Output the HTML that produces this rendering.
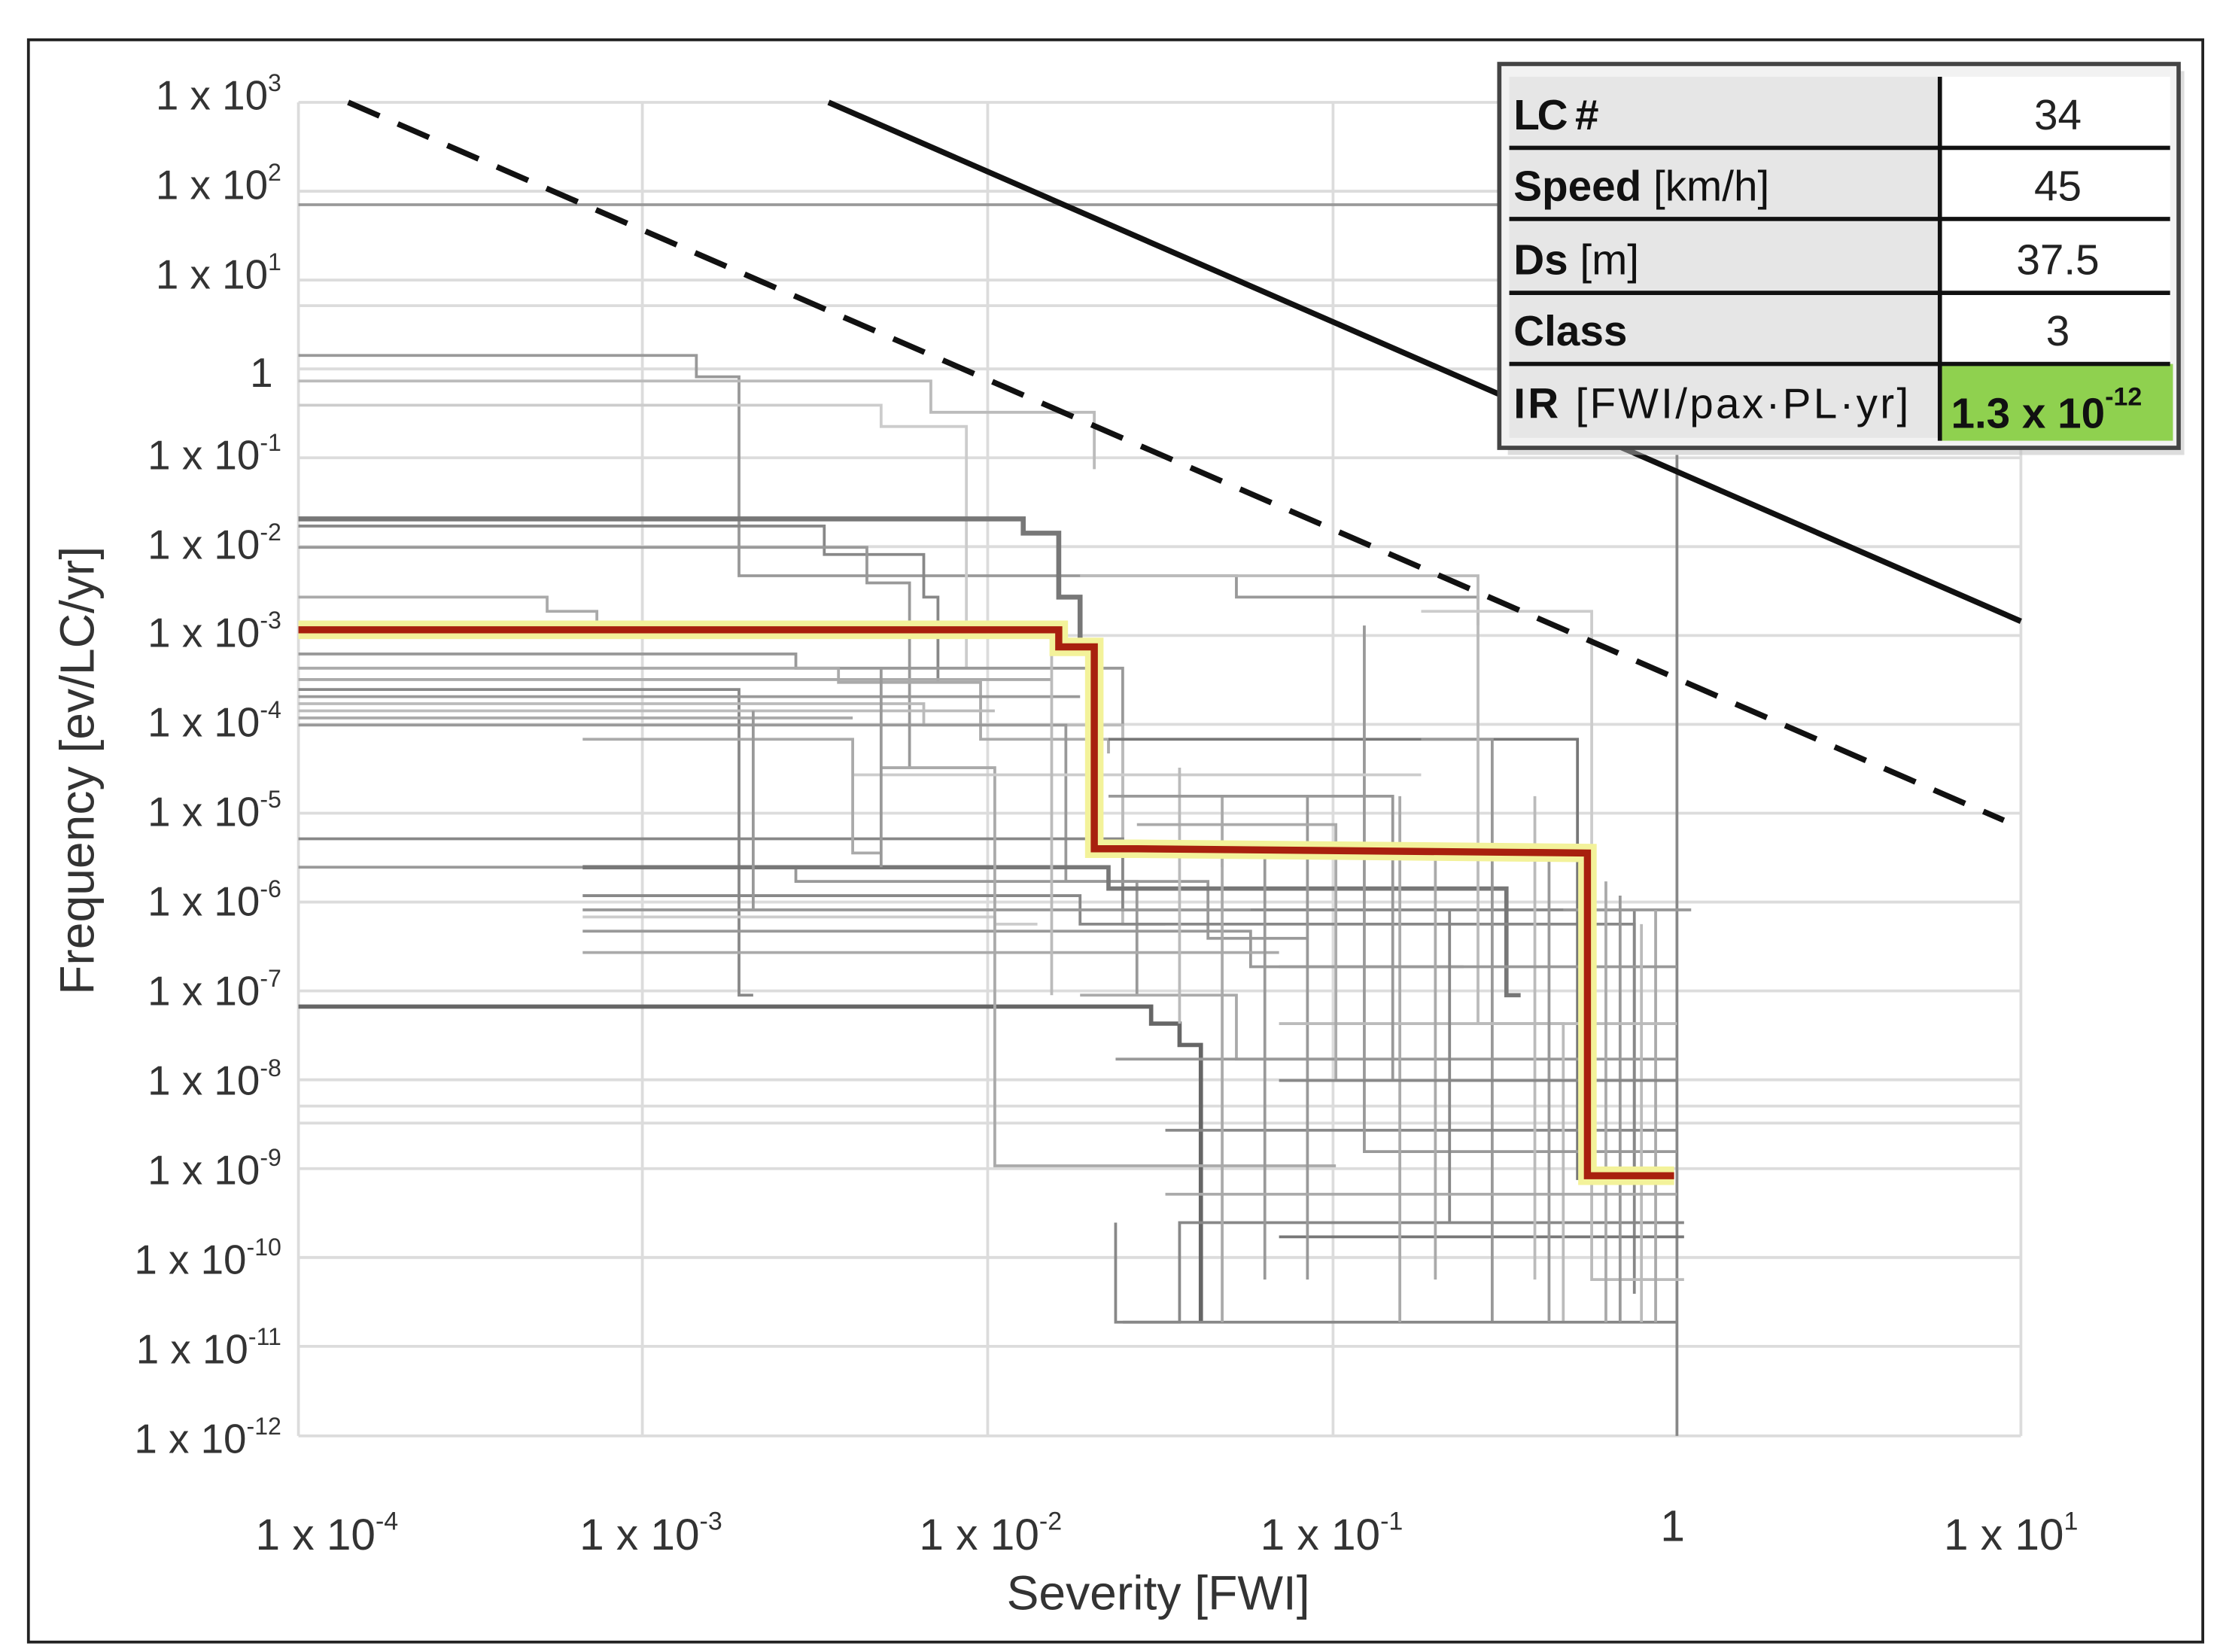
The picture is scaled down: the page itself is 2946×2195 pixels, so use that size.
<!DOCTYPE html>
<html><head><meta charset="utf-8"><style>
html,body{margin:0;padding:0;background:#fff}
svg{display:block}
text{font-family:"Liberation Sans",sans-serif;fill:#333}
</style></head><body>
<svg width="2946" height="2195" viewBox="0 0 1560 1162" preserveAspectRatio="none" xmlns="http://www.w3.org/2000/svg">
<rect x="0" y="0" width="1560" height="1162" fill="#fff"/>
<rect x="20" y="28" width="1530" height="1127" fill="#fff" stroke="#222" stroke-width="2"/>
<g stroke="#dcdcdc" stroke-width="2">
<line x1="210" y1="72" x2="1422" y2="72"/><line x1="210" y1="134.5" x2="1422" y2="134.5"/><line x1="210" y1="197" x2="1422" y2="197"/><line x1="210" y1="259.5" x2="1422" y2="259.5"/><line x1="210" y1="322" x2="1422" y2="322"/><line x1="210" y1="384.5" x2="1422" y2="384.5"/><line x1="210" y1="447" x2="1422" y2="447"/><line x1="210" y1="509.5" x2="1422" y2="509.5"/><line x1="210" y1="572" x2="1422" y2="572"/><line x1="210" y1="634.5" x2="1422" y2="634.5"/><line x1="210" y1="697" x2="1422" y2="697"/><line x1="210" y1="759.5" x2="1422" y2="759.5"/><line x1="210" y1="822" x2="1422" y2="822"/><line x1="210" y1="884.5" x2="1422" y2="884.5"/><line x1="210" y1="947" x2="1422" y2="947"/><line x1="210" y1="1010" x2="1422" y2="1010"/>
<line x1="210" y1="72" x2="210" y2="1010"/><line x1="452" y1="72" x2="452" y2="1010"/><line x1="695" y1="72" x2="695" y2="1010"/><line x1="938" y1="72" x2="938" y2="1010"/><line x1="1422" y1="72" x2="1422" y2="1010"/>
<line x1="210" y1="215" x2="1422" y2="215"/><line x1="210" y1="778" x2="1422" y2="778"/><line x1="210" y1="790" x2="1422" y2="790"/>
</g>
<line x1="210" y1="144" x2="1060" y2="144" stroke="#999" stroke-width="2"/>
<line x1="1180" y1="320" x2="1180" y2="1010" stroke="#888" stroke-width="2"/>
<g fill="none" stroke-width="2">
<polyline stroke="#999" points="210,250 490,250 490,265 520,265 520,405 870,405 870,420 1040,420 1040,440"/>
<polyline stroke="#bbb" points="210,268 655,268 655,290 770,290 770,330"/>
<polyline stroke="#ccc" points="210,285 620,285 620,300 680,300 680,470"/>
<polyline stroke="#777" stroke-width="3.5" points="210,365 720,365 720,375 745,375 745,420 760,420 760,460"/>
<polyline stroke="#888" points="210,370 580,370 580,390 650,390 650,420 660,420 660,480"/>
<polyline stroke="#999" points="210,385 610,385 610,410 640,410 640,540"/>
<polyline stroke="#aaa" points="210,420 385,420 385,430 420,430 420,440"/>
<polyline stroke="#999" points="210,460 560,460 560,470 790,470 790,600 860,600 860,610"/>
<polyline stroke="#aaa" points="210,470 590,470 590,480 690,480 690,520 780,520 780,530"/>
<polyline stroke="#888" points="210,485 520,485 520,700 530,700"/>
<polyline stroke="#bbb" points="210,495 650,495 650,510 790,510 790,650 820,650"/>
<polyline stroke="#999" points="210,510 750,510 750,620 800,620 800,700"/>
<polyline stroke="#aaa" points="210,478 740,478"/>
<polyline stroke="#bbb" points="210,500 700,500"/>
<polyline stroke="#999" points="210,490 760,490"/>
<polyline stroke="#aaa" points="210,505 600,505"/>
<polyline stroke="#888" points="210,590 790,590 790,640 1150,640 1150,830"/>
<polyline stroke="#999" points="210,610 560,610 560,620 850,620 850,660 920,660"/>
<polyline stroke="#777" stroke-width="3" points="410,610 780,610 780,625 1060,625 1060,700 1070,700"/>
<polyline stroke="#888" points="410,630 760,630 760,650 1150,650 1150,910"/>
<polyline stroke="#999" points="410,655 880,655 880,680 1030,680"/>
<polyline stroke="#ccc" points="410,645 700,645 700,650 730,650"/>
<polyline stroke="#999" points="410,640 880,640"/>
<polyline stroke="#aaa" points="410,670 900,670"/>
<polyline stroke="#666" stroke-width="3" points="210,708 810,708 810,720 830,720 830,735 845,735 845,930"/>
<polyline stroke="#777" points="780,520 1110,520 1110,830"/>
<polyline stroke="#888" points="785,860 785,930 830,930 830,860 1185,860"/>
<polyline stroke="#777" points="900,870 1185,870"/>
<polyline stroke="#999" points="1000,520 1050,520 1050,930"/>
<polyline stroke="#aaa" points="760,700 870,700 870,745 950,745"/>
<polyline stroke="#999" points="785,745 1180,745"/>
<polyline stroke="#888" points="820,795 1180,795"/>
<polyline stroke="#aaa" points="620,540 700,540 700,820 940,820"/>
<polyline stroke="#bbb" points="760,405 1040,405 1040,720 1100,720 1100,930"/>
<polyline stroke="#ccc" points="1000,430 1120,430 1120,600"/>
<polyline stroke="#999" points="960,440 960,810 1180,810"/>
<polyline stroke="#999" points="1100,640 1190,640"/>
<polyline stroke="#bbb" points="1120,700 1120,900 1185,900"/>
<polyline stroke="#888" points="790,930 1180,930"/>
<polyline stroke="#aaa" points="860,560 860,930"/>
<polyline stroke="#999" points="920,560 920,900"/>
<polyline stroke="#aaa" points="985,560 985,930"/>
<polyline stroke="#bbb" points="1080,560 1080,900"/>
<polyline stroke="#999" points="1140,630 1140,930"/>
<polyline stroke="#aaa" points="1165,640 1165,930"/>
<polyline stroke="#999" points="900,680 1180,680"/>
<polyline stroke="#bbb" points="900,720 1180,720"/>
<polyline stroke="#ccc" points="600,545 1000,545"/>
<polyline stroke="#aaa" points="410,520 600,520 600,600 620,600"/>
<polyline stroke="#999" points="530,500 530,640"/>
<polyline stroke="#bbb" points="830,540 830,720"/>
<polyline stroke="#999" points="890,600 890,900"/>
<polyline stroke="#aaa" points="1010,600 1010,900"/>
<polyline stroke="#888" points="1020,640 1020,860"/>
<polyline stroke="#999" points="1090,600 1090,930"/>
<polyline stroke="#aaa" points="1130,620 1130,930"/>
<polyline stroke="#bbb" points="1155,650 1155,930"/>
<polyline stroke="#999" points="780,560 980,560 980,760"/>
<polyline stroke="#aaa" points="800,580 940,580 940,760"/>
<polyline stroke="#888" points="900,760 1180,760"/>
<polyline stroke="#aaa" points="820,840 1180,840"/>
<polyline stroke="#999" points="620,470 620,610"/>
<polyline stroke="#bbb" points="740,450 740,700"/>
</g>
<polyline fill="none" stroke="#f3f29a" stroke-width="13" points="210,443 745,443 745,455 770,455 770,597 800,597 1117,600 1117,827 1178,827"/>
<polyline fill="none" stroke="#a8200e" stroke-width="5" points="210,443 745,443 745,455 770,455 770,597 800,597 1117,600 1117,827 1178,827"/>
<line x1="583" y1="72" x2="1422" y2="437" stroke="#111" stroke-width="4"/>
<line x1="245" y1="72" x2="1410" y2="577" stroke="#111" stroke-width="4" stroke-dasharray="24,14"/>
<g font-size="29" text-anchor="end">
<text x="198" y="77">1 x 10<tspan font-size="17" dy="-13">3</tspan></text>
<text x="198" y="140">1 x 10<tspan font-size="17" dy="-13">2</tspan></text>
<text x="198" y="203">1 x 10<tspan font-size="17" dy="-13">1</tspan></text>
<text x="192" y="272">1</text>
<text x="198" y="330">1 x 10<tspan font-size="17" dy="-13">-1</tspan></text>
<text x="198" y="393">1 x 10<tspan font-size="17" dy="-13">-2</tspan></text>
<text x="198" y="455">1 x 10<tspan font-size="17" dy="-13">-3</tspan></text>
<text x="198" y="518">1 x 10<tspan font-size="17" dy="-13">-4</tspan></text>
<text x="198" y="581">1 x 10<tspan font-size="17" dy="-13">-5</tspan></text>
<text x="198" y="644">1 x 10<tspan font-size="17" dy="-13">-6</tspan></text>
<text x="198" y="707">1 x 10<tspan font-size="17" dy="-13">-7</tspan></text>
<text x="198" y="770">1 x 10<tspan font-size="17" dy="-13">-8</tspan></text>
<text x="198" y="833">1 x 10<tspan font-size="17" dy="-13">-9</tspan></text>
<text x="198" y="896">1 x 10<tspan font-size="17" dy="-13">-10</tspan></text>
<text x="198" y="959">1 x 10<tspan font-size="17" dy="-13">-11</tspan></text>
<text x="198" y="1022">1 x 10<tspan font-size="17" dy="-13">-12</tspan></text>
</g>
<g font-size="31" text-anchor="middle">
<text x="230" y="1090">1 x 10<tspan font-size="18" dy="-14">-4</tspan></text>
<text x="458" y="1090">1 x 10<tspan font-size="18" dy="-14">-3</tspan></text>
<text x="697" y="1090">1 x 10<tspan font-size="18" dy="-14">-2</tspan></text>
<text x="937" y="1090">1 x 10<tspan font-size="18" dy="-14">-1</tspan></text>
<text x="1177" y="1084">1</text>
<text x="1415" y="1090">1 x 10<tspan font-size="18" dy="-14">1</tspan></text>
</g>
<text x="815" y="1132" font-size="34" text-anchor="middle">Severity [FWI]</text>
<text transform="translate(66,542) rotate(-90)" font-size="34" text-anchor="middle">Frequency [ev/LC/yr]</text>
<rect x="1061" y="50" width="476" height="270" fill="#bbb" opacity="0.5"/>
<rect x="1055" y="45" width="478" height="270" fill="#f2f2f2" stroke="#444" stroke-width="3"/>
<g>
<rect x="1062" y="54" width="303" height="50" fill="#e6e6e6"/>
<rect x="1062" y="104" width="303" height="50" fill="#e6e6e6"/>
<rect x="1062" y="154" width="303" height="52" fill="#e6e6e6"/>
<rect x="1062" y="206" width="303" height="50" fill="#e6e6e6"/>
<rect x="1062" y="256" width="303" height="52" fill="#e6e6e6"/>
<rect x="1365" y="54" width="162" height="202" fill="#fff"/>
<rect x="1365" y="256" width="164" height="54" fill="#8fd14f"/>
</g>
<g stroke="#111" stroke-width="3">
<line x1="1062" y1="104" x2="1527" y2="104"/><line x1="1062" y1="154" x2="1527" y2="154"/><line x1="1062" y1="206" x2="1527" y2="206"/><line x1="1062" y1="256" x2="1527" y2="256"/>
<line x1="1365" y1="54" x2="1365" y2="310"/>
</g>
<g font-size="30">
<text x="1065" y="91" style="fill:#111" font-weight="bold" textLength="60">LC #</text>
<text x="1065" y="141" style="fill:#111"><tspan font-weight="bold">Speed</tspan> [km/h]</text>
<text x="1065" y="193" style="fill:#111"><tspan font-weight="bold">Ds</tspan> [m]</text>
<text x="1065" y="243" style="fill:#111" font-weight="bold">Class</text>
<text x="1065" y="294" style="fill:#111" textLength="278"><tspan font-weight="bold">IR</tspan> [FWI/pax·PL·yr]</text>
</g>
<g font-size="30" text-anchor="middle">
<text x="1448" y="91" style="fill:#222">34</text>
<text x="1448" y="141" style="fill:#222">45</text>
<text x="1448" y="193" style="fill:#222">37.5</text>
<text x="1448" y="243" style="fill:#222">3</text>
<text x="1440" y="301" style="fill:#111" font-weight="bold">1.3 x 10<tspan font-size="18" dy="-16">-12</tspan></text>
</g>
</svg>
</body></html>
